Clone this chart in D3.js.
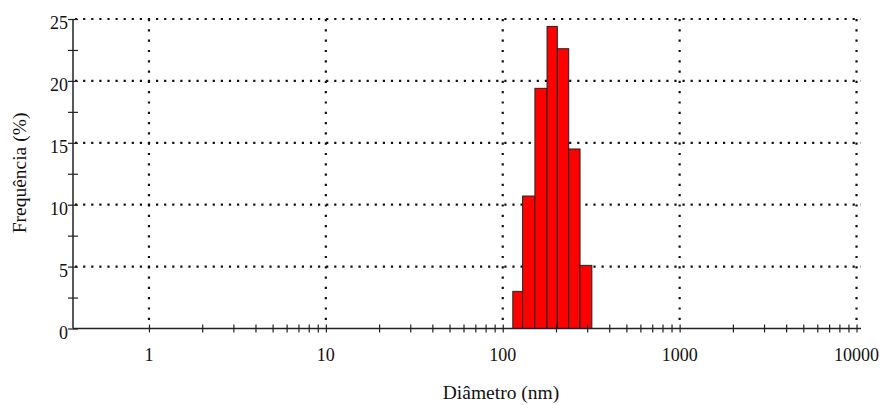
<!DOCTYPE html>
<html>
<head>
<meta charset="utf-8">
<script src="https://cdn.jsdelivr.net/npm/d3@7/dist/d3.min.js"></script>
<style>
  html, body { margin: 0; padding: 0; background: #fff; }
  svg { display: block; }
  text { font-family: "Liberation Serif", "Times New Roman", serif; fill: #111; }
</style>
</head>
<body>
<svg id="chart" width="883" height="405"></svg>
<script>
// ---- data ----
const binEdges = [114, 129.5, 152, 178, 203.5, 236, 273.5, 319];   // diameter (nm), bin boundaries
const frequencies = [3.0, 10.7, 19.4, 24.4, 22.6, 14.5, 5.1];      // %
const xMajorTicks = [1, 10, 100, 1000, 10000];
const xTickLabels = ["1", "10", "100", "1000", "10000"];
const yMajorTicks = [0, 5, 10, 15, 20, 25];
const yTickLabels = ["0", "5", "10", "15", "20", "25"];
const yMinorTicks = [2.5, 7.5, 12.5, 17.5, 22.5];
const xMinorMultipliers = [2, 3, 4, 5, 6, 7, 8, 9];
const xTitle = "Diâmetro (nm)";
const yTitle = "Frequência (%)";

// ---- layout ----
(function () {
const svg = d3.select("#chart");
const mLeft = 73, mRight = 861, mTop = 19, mBottom = 328.5;

const x = d3.scaleLog().domain([0.372, 10600]).range([mLeft, mRight]);
const y = d3.scaleLinear().domain([0, 25]).range([mBottom, mTop]);

const xMinorTicks = [];
[1, 10, 100, 1000].forEach(d => xMinorMultipliers.forEach(m => xMinorTicks.push(d * m)));

const bars = frequencies.map((v, i) => ({ x0: binEdges[i], x1: binEdges[i + 1], v }));

// gridlines (dotted)
const grid = svg.append("g").attr("stroke", "#111").attr("stroke-width", 2.2);
grid.selectAll("line.h").data(yMajorTicks.filter(d => d > 0)).join("line")
  .attr("class", "h")
  .attr("x1", mLeft + 2).attr("x2", mRight)
  .attr("y1", d => y(d)).attr("y2", d => y(d))
  .attr("stroke-dasharray", "2.2,5.9");
grid.selectAll("line.v").data(xMajorTicks).join("line")
  .attr("class", "v")
  .attr("x1", d => x(d)).attr("x2", d => x(d))
  .attr("y1", mTop).attr("y2", mBottom - 2)
  .attr("stroke-dasharray", "2.2,8.1");

// bars
svg.append("g").selectAll("rect").data(bars).join("rect")
  .attr("x", d => x(d.x0))
  .attr("width", d => x(d.x1) - x(d.x0))
  .attr("y", d => y(d.v))
  .attr("height", d => y(0) - y(d.v))
  .attr("fill", "#ff0000")
  .attr("stroke", "#222")
  .attr("stroke-width", 1);

// x axis
const xAxis = svg.append("g").attr("transform", `translate(0,${mBottom})`);
xAxis.append("g").call(
  d3.axisBottom(x).tickValues(xMajorTicks.concat(xMinorTicks)).tickSize(4).tickSizeOuter(0).tickFormat("")
).call(g => {
  g.select(".domain").remove();
  g.selectAll(".tick line").attr("y1", -4).attr("y2", 4).attr("stroke", "#222").attr("stroke-width", 1.2);
});
xAxis.append("line").attr("x1", mLeft).attr("x2", mRight).attr("y1", 0).attr("y2", 0)
  .attr("stroke", "#222").attr("stroke-width", 1.5);
xAxis.selectAll("text.lbl").data(xMajorTicks).join("text")
  .attr("class", "lbl")
  .attr("x", d => x(d)).attr("y", 32)
  .attr("text-anchor", "middle")
  .attr("font-size", 18)
  .text((d, i) => xTickLabels[i]);

// y axis
const yAxis = svg.append("g").attr("transform", `translate(${mLeft},0)`);
yAxis.append("g").call(
  d3.axisLeft(y).tickValues(yMajorTicks.concat(yMinorTicks)).tickSize(5).tickSizeOuter(0).tickFormat("")
).call(g => {
  g.select(".domain").remove();
  g.selectAll(".tick line").attr("x1", -5).attr("x2", 5).attr("stroke", "#222").attr("stroke-width", 1.2);
});
yAxis.append("line").attr("x1", 0).attr("x2", 0).attr("y1", mTop).attr("y2", mBottom)
  .attr("stroke", "#222").attr("stroke-width", 1.5);
yAxis.selectAll("text.lbl").data(yMajorTicks).join("text")
  .attr("class", "lbl")
  .attr("x", -5).attr("y", d => y(d) + 10)
  .attr("text-anchor", "end")
  .attr("font-size", 18)
  .text((d, i) => yTickLabels[i]);

// titles
svg.append("text")
  .attr("x", 501).attr("y", 399)
  .attr("text-anchor", "middle")
  .attr("font-size", 19.5)
  .text(xTitle);
svg.append("text")
  .attr("transform", "translate(26,173) rotate(-90)")
  .attr("text-anchor", "middle")
  .attr("font-size", 19.5)
  .text(yTitle);
})();
</script>
</body>
</html>
